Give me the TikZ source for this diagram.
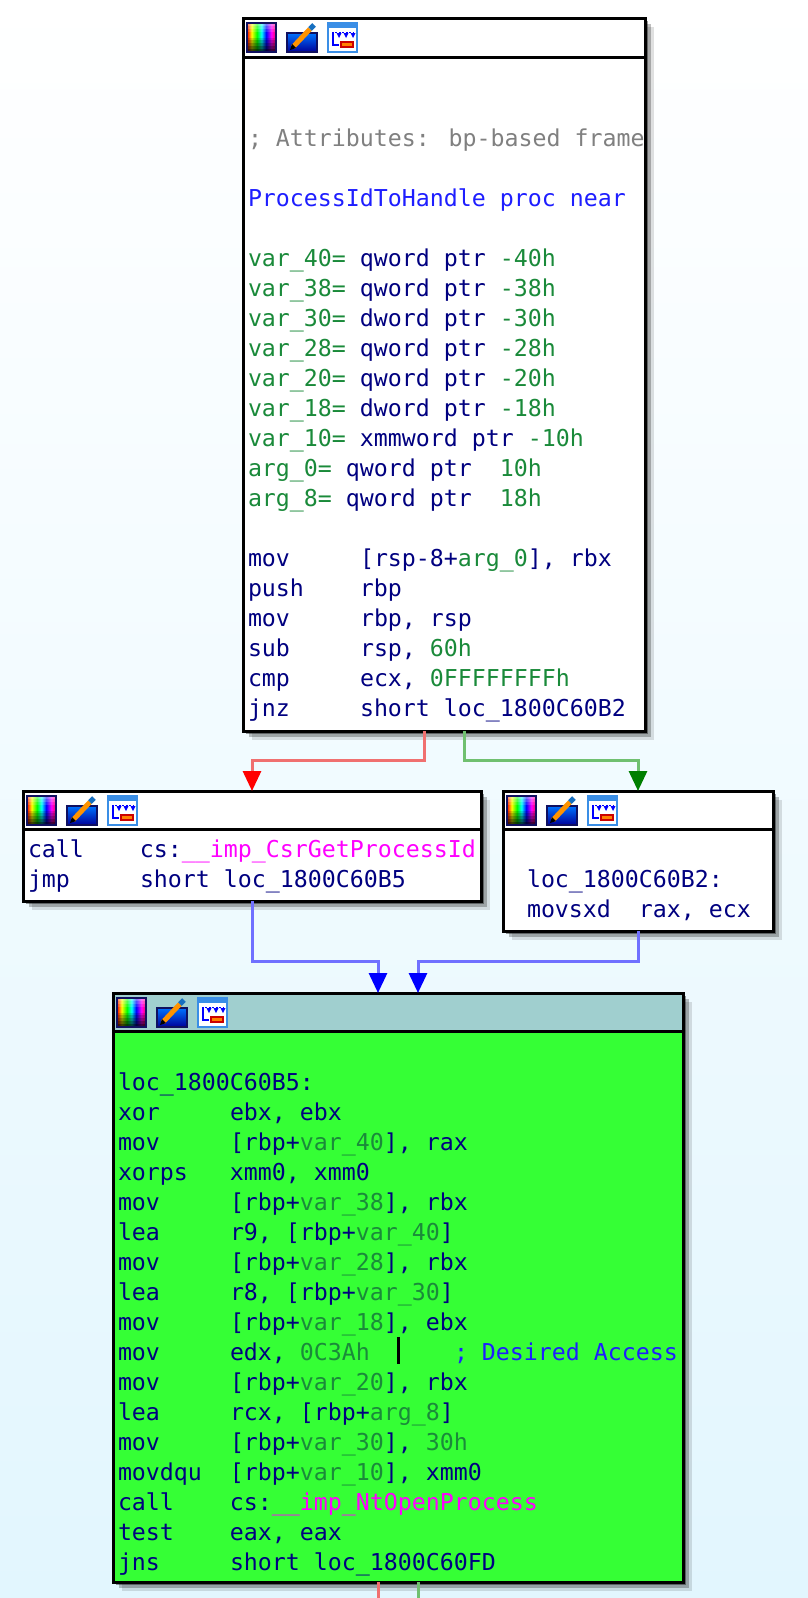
\documentclass[tikz,border=0pt]{standalone}
\usepackage{fontspec}
\newfontfamily\codefont{DejaVu Sans Mono}
\usetikzlibrary{calc,shadows,arrows.meta}
\definecolor{navyc}{HTML}{000080}
\definecolor{varg}{HTML}{1A8A3A}
\definecolor{procb}{HTML}{1E1EFF}
\definecolor{cmtg}{HTML}{808080}
\definecolor{impm}{HTML}{FF00FF}
\definecolor{bgbot}{HTML}{E2F6FE}
\definecolor{grnfill}{HTML}{35FF35}
\definecolor{grnhdr}{HTML}{A0CFCF}
\definecolor{lnred}{HTML}{F07070}
\definecolor{lngreen}{HTML}{70C070}
\definecolor{lnblue}{HTML}{7070FF}
\definecolor{arrgreen}{HTML}{007F00}
\definecolor{iconnavy}{HTML}{101060}
\definecolor{iconblue}{HTML}{3A8EE6}
\pgfdeclarehorizontalshading{spectrum}{100bp}{color(0bp)=(red); color(25bp)=(red); color(33bp)=(yellow); color(42bp)=(green); color(50bp)=(cyan); color(58bp)=(blue); color(67bp)=(magenta); color(75bp)=(red!70!magenta); color(100bp)=(red!70!magenta)}
\newcommand\gn[1]{\textcolor{varg}{#1}}
\newcommand\mg[1]{\textcolor{impm}{#1}}
\newcommand\bl[1]{\textcolor{procb}{#1}}
\newcommand\mn[1]{\makebox[112pt][l]{#1}}
\tikzset{
  code/.style={font=\codefont\fontsize{23.25pt}{30pt}\selectfont, text=navyc, anchor=base west, inner sep=0pt, outer sep=0pt},
  blockbox/.style={rectangle, draw=black, line width=3pt, fill=white, inner sep=0pt, outer sep=0pt, anchor=north west,
    drop shadow={shadow xshift=3pt, shadow yshift=-3pt, fill=black, opacity=.4},
    drop shadow={shadow xshift=6pt, shadow yshift=-6pt, fill=black, opacity=.25},
    drop shadow={shadow xshift=9pt, shadow yshift=-9pt, fill=black, opacity=.12}},
  hdrline/.style={draw=black, line width=3pt},
  redln/.style={draw=lnred, line width=3pt},
  greenln/.style={draw=lngreen, line width=3pt},
  blueln/.style={draw=lnblue, line width=3pt},
  redarr/.style={redln, -{Triangle[width=18pt,length=20pt,color=red,fill=red]}},
  greenarr/.style={greenln, -{Triangle[width=18pt,length=20pt,color=arrgreen,fill=arrgreen]}},
  bluearr/.style={blueln, -{Triangle[width=18pt,length=20pt,color=blue,fill=blue]}}
}
\newcommand\hdricons[1]{%
  \begin{scope}[shift={(#1.north west)}]
    % colour palette icon
    \shade[shading=spectrum] (4,5) rectangle (33,34);
    \foreach \k/\c/\o in {0/white/.45,1/white/.3,2/white/.15,5/black/.15,6/black/.3,7/black/.45,8/black/.6,9/black/.75}{
      \fill[\c, opacity=\o] (4,{5+\k*2.9}) rectangle (33,{5+(\k+1)*2.9});
    }
    \draw[iconnavy, line width=2pt] (4,5) rectangle (33,34);
    % pencil icon
    \draw[iconnavy, line width=2pt, top color=blue!55!cyan, bottom color=blue!60!black] (44,15) rectangle (74,34);
    \draw[orange!85!yellow, line width=5pt] (50,29) -- (67,11);
    \draw[cyan!50!blue, line width=5pt] (67,11) -- (71,7);
    \fill[black] (47,32) -- (49,26) -- (53,30) -- cycle;
    % graph icon
    \draw[iconblue, line width=2pt, fill=white] (85,5) rectangle (114,34);
    \fill[iconblue] (85,5) rectangle (114,10);
    \draw[blue, line width=1.3pt] (90,14) -- (90,27) -- (96,27);
    \draw[blue, line width=1pt, dash pattern=on 2pt off 1.5pt] (92,14) -- (111,14);
    \foreach \ax in {96,103,110}{\fill[blue] (\ax-2.5,15) -- (\ax+2.5,15) -- (\ax,20) -- cycle;}
    \fill[red!80!black] (97,23) rectangle (111,30);
    \fill[orange] (99,25) rectangle (109,28);
  \end{scope}}
\begin{document}
\begin{tikzpicture}[x=1pt,y=-1pt]
\useasboundingbox (0,0) rectangle (808,1598);
\shade[top color=white, bottom color=bgbot] (0,0) rectangle (808,1598);

% ---------------- blocks
\node[blockbox, minimum width=402pt, minimum height=713pt] (tb) at (243,18) {};
\node[blockbox, minimum width=458pt, minimum height=110pt] (lb) at (23,791) {};
\node[blockbox, minimum width=270pt, minimum height=140pt] (rb) at (503,791) {};
\node[blockbox, fill=grnfill, minimum width=570pt, minimum height=589pt] (gb) at (113,993) {};

% headers
\draw[hdrline] ($(tb.north west)+(0,39)$) -- ($(tb.north east)+(0,39)$);
\draw[hdrline] ($(lb.north west)+(0,38)$) -- ($(lb.north east)+(0,38)$);
\draw[hdrline] ($(rb.north west)+(0,38)$) -- ($(rb.north east)+(0,38)$);
\fill[grnhdr] ($(gb.north west)+(1.5,1.5)$) rectangle ($(gb.north east)+(-1.5,38)$);
\draw[hdrline] ($(gb.north west)+(0,38)$) -- ($(gb.north east)+(0,38)$);
\hdricons{tb}
\hdricons{lb}
\hdricons{rb}
\hdricons{gb}

% ---------------- top block text
\node[code, text=cmtg] (ta) at (248,146) {; Attributes: bp-based frame};
\node[code, text=procb] (tp) at (248,206) {ProcessIdToHandle proc near};
\node[code] (tv1) at (248,266) {\gn{var\_40=} qword ptr \gn{-40h}};
\node[code] (tv2) at (248,296) {\gn{var\_38=} qword ptr \gn{-38h}};
\node[code] (tv3) at (248,326) {\gn{var\_30=} dword ptr \gn{-30h}};
\node[code] (tv4) at (248,356) {\gn{var\_28=} qword ptr \gn{-28h}};
\node[code] (tv5) at (248,386) {\gn{var\_20=} qword ptr \gn{-20h}};
\node[code] (tv6) at (248,416) {\gn{var\_18=} dword ptr \gn{-18h}};
\node[code] (tv7) at (248,446) {\gn{var\_10=} xmmword ptr \gn{-10h}};
\node[code] (tv8) at (248,476) {\gn{arg\_0=} qword ptr~~\gn{10h}};
\node[code] (tv9) at (248,506) {\gn{arg\_8=} qword ptr~~\gn{18h}};
\node[code] (ti1) at (248,566) {\mn{mov}[rsp-8+\gn{arg\_0}], rbx};
\node[code] (ti2) at (248,596) {\mn{push}rbp};
\node[code] (ti3) at (248,626) {\mn{mov}rbp, rsp};
\node[code] (ti4) at (248,656) {\mn{sub}rsp, \gn{60h}};
\node[code] (ti5) at (248,686) {\mn{cmp}ecx, \gn{0FFFFFFFFh}};
\node[code] (ti6) at (248,716) {\mn{jnz}short loc\_1800C60B2};

% ---------------- left block text
\node[code] (l1) at (28,857) {\mn{call}cs:\mg{\_\_imp\_CsrGetProcessId}};
\node[code] (l2) at (28,887) {\mn{jmp}short loc\_1800C60B5};

% ---------------- right block text
\node[code] (r1) at (527,887) {loc\_1800C60B2:};
\node[code] (r2) at (527,917) {\mn{movsxd}rax, ecx};

% ---------------- green block text
\node[code] (g00) at (118,1090) {loc\_1800C60B5:};
\node[code] (g01) at (118,1120) {\mn{xor}ebx, ebx};
\node[code] (g02) at (118,1150) {\mn{mov}[rbp+\gn{var\_40}], rax};
\node[code] (g03) at (118,1180) {\mn{xorps}xmm0, xmm0};
\node[code] (g04) at (118,1210) {\mn{mov}[rbp+\gn{var\_38}], rbx};
\node[code] (g05) at (118,1240) {\mn{lea}r9, [rbp+\gn{var\_40}]};
\node[code] (g06) at (118,1270) {\mn{mov}[rbp+\gn{var\_28}], rbx};
\node[code] (g07) at (118,1300) {\mn{lea}r8, [rbp+\gn{var\_30}]};
\node[code] (g08) at (118,1330) {\mn{mov}[rbp+\gn{var\_18}], ebx};
\node[code] (g09) at (118,1360) {\makebox[336pt][l]{\mn{mov}edx, \gn{0C3Ah}}\bl{; Desired Access}};
\node[code] (g10) at (118,1390) {\mn{mov}[rbp+\gn{var\_20}], rbx};
\node[code] (g11) at (118,1420) {\mn{lea}rcx, [rbp+\gn{arg\_8}]};
\node[code] (g12) at (118,1450) {\mn{mov}[rbp+\gn{var\_30}], \gn{30h}};
\node[code] (g13) at (118,1480) {\mn{movdqu}[rbp+\gn{var\_10}], xmm0};
\node[code] (g14) at (118,1510) {\mn{call}cs:\mg{\_\_imp\_NtOpenProcess}};
\node[code] (g15) at (118,1540) {\mn{test}eax, eax};
\node[code] (g16) at (118,1570) {\mn{jns}short loc\_1800C60FD};
% text cursor
\fill[black] (396.5,1337) rectangle (399.5,1364);

% ---------------- connectors
\draw[redarr] ($(tb.south)+(-20,0)$) -- ++(0,29) -| (lb.north);
\draw[greenarr] ($(tb.south)+(20,0)$) -- ++(0,29) -| (rb.north);
\draw[bluearr] (lb.south) -- ++(0,60) -| ($(gb.north)+(-20,0)$);
\draw[bluearr] (rb.south) -- ++(0,30) -| ($(gb.north)+(20,0)$);
\coordinate (outR) at (378,1598);
\coordinate (outG) at (418,1598);
\draw[redln] ($(gb.south)+(-20,0)$) -- (outR);
\draw[greenln] ($(gb.south)+(20,0)$) -- (outG);
\end{tikzpicture}
\end{document}
